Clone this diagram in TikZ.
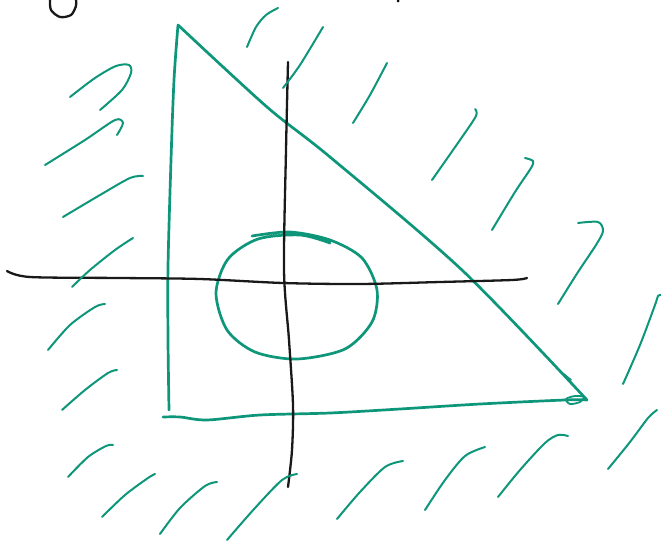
\documentclass[tikz,border=0pt]{standalone}
\begin{document}
\begin{tikzpicture}[x=1pt,y=-1pt,line cap=round,line join=round,
  pen/.style={draw=teal0,line width=2.7pt},
  hatch/.style={draw=teal0,line width=2pt},
  axis/.style={draw=black!90,line width=2.3pt}]
\definecolor{teal0}{RGB}{14,150,122}
\useasboundingbox (0,0) rectangle (661,545);
% black mark top-left
\draw[axis] plot[smooth] coordinates {(50,0) (51,10) (60,17) (71,15) (76,6) (76,0)};
\fill (398,1) circle (1.5);
% triangle
\draw[pen] plot[smooth] coordinates {(178,25) (174,80) (171,160) (168,267) (168,340) (169,410)};
\draw[pen] plot[smooth,tension=0.5] coordinates {(178,25) (267,107) (330,157) (463,271) (587,400)};
\draw[pen] plot[smooth] coordinates {(587,400) (565,400) (480,404) (400,409) (330,413) (260,415) (207,420) (180,417) (163,417)};
\draw[pen,line width=1.8pt] plot[smooth cycle] coordinates {(566,399) (575,396) (584,397) (580,402) (570,404)};
\draw[pen,line width=1.8pt] (561,372) -- (571,380);
% circle
\draw[pen] plot[smooth] coordinates {(252,236) (290,232) (330,240) (362,258) (377,290) (372,322) (345,349) (297,359) (255,352) (227,330) (216,293) (228,259) (258,239) (300,235) (330,243)};
% axes
\draw[axis] plot[smooth] coordinates {(7,271) (30,277) (120,278) (200,279) (283,283) (360,284) (440,282) (512,280) (527,278)};
\draw[axis] plot[smooth] coordinates {(288,62) (286,150) (284,270) (289,340) (293,405) (292,450) (288,487)};
% hatching
\draw[hatch] plot[smooth] coordinates {(247,47) (256,27) (266,15) (278,8)};
\draw[hatch] plot[smooth] coordinates {(283,88) (300,65) (323,27)};
\draw[hatch] plot[smooth] coordinates {(70,97) (95,78) (116,66) (129,65) (131,73) (122,90) (100,110)};
\draw[hatch] plot[smooth] coordinates {(45,165) (85,140) (115,120) (123,123) (117,135)};
\draw[hatch] plot[smooth] coordinates {(63,217) (100,195) (130,178) (143,176)};
\draw[hatch] plot[smooth] coordinates {(72,287) (90,270) (115,250) (133,238)};
\draw[hatch] plot[smooth] coordinates {(353,123) (370,95) (387,63)};
\draw[hatch] plot[smooth] coordinates {(432,180) (460,140) (476,116) (475,109)};
\draw[hatch] plot[smooth] coordinates {(492,230) (515,192) (531,168) (533,161) (525,158)};
\draw[hatch] plot[smooth] coordinates {(558,304) (578,272) (596,245) (603,231) (598,222) (578,223)};
\draw[hatch] plot[smooth] coordinates {(623,384) (640,345) (655,305) (658,296) (661,295)};
\draw[hatch] plot[smooth] coordinates {(608,469) (630,442) (648,418) (657,410)};
\draw[hatch] plot[smooth] coordinates {(498,497) (520,470) (545,443) (558,435) (568,436)};
\draw[hatch] plot[smooth] coordinates {(425,510) (445,480) (465,456) (485,447)};
\draw[hatch] plot[smooth] coordinates {(337,519) (360,492) (385,467) (403,461)};
\draw[hatch] plot[smooth] coordinates {(48,350) (70,325) (95,307) (105,304)};
\draw[hatch] plot[smooth] coordinates {(62,410) (85,390) (108,373) (117,370)};
\draw[hatch] plot[smooth] coordinates {(68,477) (88,457) (106,446) (113,445)};
\draw[hatch] plot[smooth] coordinates {(102,517) (125,495) (148,478) (155,474)};
\draw[hatch] plot[smooth] coordinates {(160,534) (180,508) (205,486) (217,482)};
\draw[hatch] plot[smooth] coordinates {(227,540) (255,508) (282,480) (297,474)};
\end{tikzpicture}
\end{document}
